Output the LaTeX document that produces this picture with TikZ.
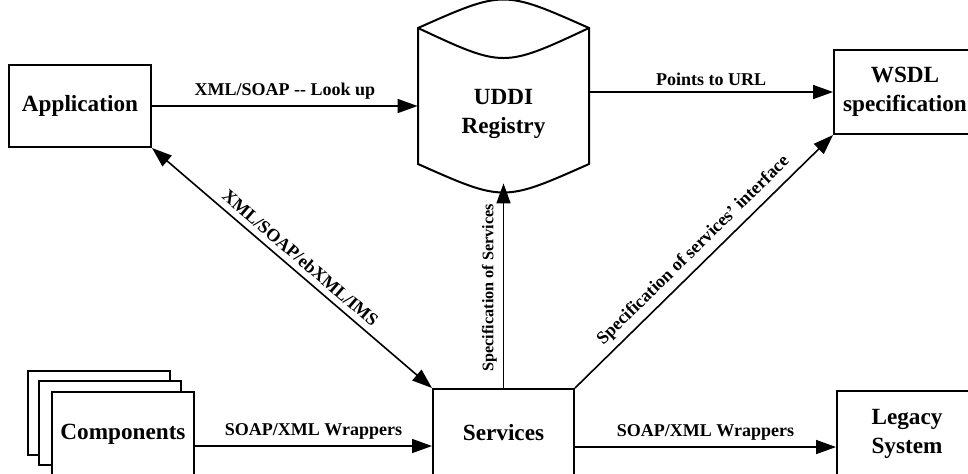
\documentclass[tikz,border=0pt]{standalone}
\usepackage{fontspec}
\setmainfont{Liberation Serif}
\usetikzlibrary{arrows.meta}
\begin{document}
\begin{tikzpicture}[x=0.5pt,y=-0.5pt,
  box/.style={draw, line width=1pt, fill=white, align=center, inner sep=0pt,
    font=\fontsize{11.6}{14.5}\selectfont\bfseries},
  tip/.tip={Triangle[length=10pt,width=7pt]},
  arr/.style={line width=0.8pt, -tip},
  biarr/.style={line width=0.8pt, tip-tip},
  lbl/.style={font=\fontsize{9}{11}\selectfont\bfseries, inner sep=3pt}
]
\useasboundingbox (0,0) rectangle (968,473);
\clip (0,0) rectangle (968,473);

% top row
\node[box, minimum width=71pt, minimum height=41pt] (app) at (80,106) {Application};
\node[box, minimum width=71pt, minimum height=42pt] (wsdl) at (905,92) {WSDL\\specification};

% registry drawn as a cylinder
\draw[line width=1pt, fill=white]
  (418,28) .. controls (503.5,-10) .. (589,28) -- (589,164)
  .. controls (503.5,202) .. (418,164) -- cycle;
\draw[line width=1pt] (418,28) .. controls (503.5,68) .. (589,28);
\node[align=center, inner sep=0pt, minimum width=85.5pt, minimum height=69.5pt,
  font=\fontsize{11.6}{14.5}\selectfont\bfseries] (uddi) at (503.5,113.5) {UDDI\\Registry};

% bottom row, with a stack of component sheets
\draw[line width=1pt, fill=white] (28,371) rectangle (170,455);
\draw[line width=1pt, fill=white] (39,381) rectangle (181,465);
\node[box, minimum width=71pt, minimum height=42pt] (comp) at (123,434) {Components};
\node[box, minimum width=70.5pt, minimum height=44pt] (svc) at (503.5,433) {Services};
\node[box, minimum width=70pt, minimum height=43pt] (legacy) at (907,434) {Legacy\\System};

% connectors
\draw[arr] (app.east) -- (app.east -| uddi.west)
  node[lbl, midway, above] {XML/SOAP -{}- Look up};
\draw[arr] (wsdl.west -| uddi.east) -- (wsdl.west)
  node[lbl, midway, above] {Points to URL};
\draw[biarr] (app.south east) -- (svc.north west)
  node[lbl, midway, sloped, above] {XML/SOAP/ebXML/IMS};
\draw[arr] (svc.north) -- (uddi.south)
  node[lbl, pos=0.49, sloped, above, font=\fontsize{8.1}{10}\selectfont\bfseries]
  {Specification of Services};
\draw[arr] (svc.north east) -- (wsdl.south west)
  node[lbl, midway, sloped, above] {Specification of services' interface};
\draw[arr] ([yshift=-6pt]comp.east) -- ([yshift=-6pt]comp.east -| svc.west)
  node[lbl, midway, above] {SOAP/XML Wrappers};
\draw[arr] ([yshift=-7pt]svc.east) -- ([yshift=-7pt]svc.east -| legacy.west)
  node[lbl, midway, above] {SOAP/XML Wrappers};
\end{tikzpicture}
\end{document}
